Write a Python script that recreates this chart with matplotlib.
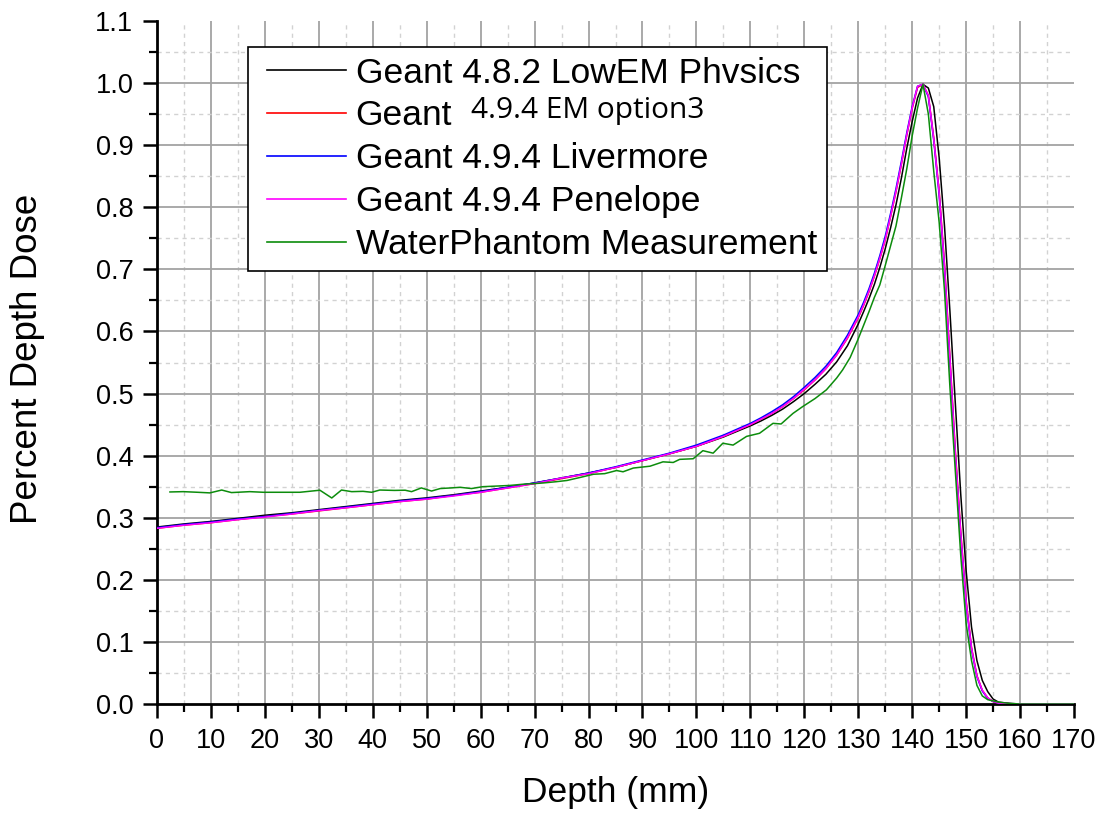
import matplotlib
matplotlib.use('Agg')
import matplotlib.pyplot as plt
from matplotlib.ticker import MultipleLocator, FormatStrFormatter
from matplotlib.lines import Line2D
from matplotlib.legend_handler import HandlerLine2D

plt.rcParams['font.family'] = ['Liberation Sans', 'DejaVu Sans']

# ---------------- data ----------------
sim_depth = [0, 5, 10, 15, 20, 25, 30, 35, 40, 45, 50, 55, 60, 65, 70, 75, 80, 85, 90, 95, 100, 105, 110,
             112, 114, 116, 118, 120, 122, 124, 126, 128, 130,
             131, 132, 133, 134, 135, 136, 137, 138, 139, 140, 141, 142, 143, 144, 145, 146, 147, 148,
             149, 150, 151, 152, 153, 154, 155, 156,
             158, 160, 165, 170]

lowem = [0.285, 0.290, 0.294, 0.299, 0.304, 0.308, 0.313, 0.318, 0.323, 0.328, 0.332, 0.337, 0.343, 0.349,
         0.356, 0.364, 0.372, 0.381, 0.392, 0.403, 0.415, 0.430, 0.448,
         0.456, 0.465, 0.475, 0.487, 0.500, 0.515, 0.531, 0.551, 0.577, 0.612,
         0.632, 0.653, 0.676, 0.703, 0.733, 0.767, 0.804, 0.847, 0.895, 0.938, 0.976, 0.998, 0.992, 0.962,
         0.880, 0.769, 0.632, 0.484, 0.338, 0.215, 0.124, 0.070, 0.038, 0.020, 0.008, 0.003,
         0.001, 0.0, 0.0, 0.0]

option3 = [0.283, 0.288, 0.292, 0.297, 0.302, 0.306, 0.311, 0.316, 0.321, 0.326, 0.330, 0.336, 0.341, 0.348,
           0.355, 0.363, 0.371, 0.381, 0.392, 0.403, 0.415, 0.431, 0.450,
           0.459, 0.468, 0.479, 0.492, 0.506, 0.522, 0.540, 0.562, 0.589, 0.622,
           0.642, 0.664, 0.689, 0.717, 0.747, 0.785, 0.825, 0.869, 0.916, 0.959, 0.993, 0.998, 0.980, 0.912,
           0.826, 0.708, 0.558, 0.408, 0.278, 0.167, 0.091, 0.046, 0.022, 0.010, 0.004, 0.0015,
           0.0005, 0.0, 0.0, 0.0]

livermore = [0.284, 0.289, 0.293, 0.298, 0.302, 0.307, 0.312, 0.317, 0.322, 0.327, 0.331, 0.336, 0.342, 0.349,
             0.356, 0.364, 0.372, 0.382, 0.393, 0.404, 0.417, 0.433, 0.452,
             0.461, 0.471, 0.482, 0.495, 0.510, 0.526, 0.544, 0.566, 0.594, 0.627,
             0.647, 0.669, 0.694, 0.722, 0.753, 0.790, 0.830, 0.874, 0.920, 0.962, 0.995, 0.998, 0.978, 0.908,
             0.820, 0.700, 0.550, 0.400, 0.270, 0.162, 0.088, 0.044, 0.021, 0.009, 0.004, 0.0015,
             0.0005, 0.0, 0.0, 0.0]

penelope = [0.283, 0.288, 0.292, 0.297, 0.301, 0.306, 0.3115, 0.316, 0.321, 0.326, 0.330, 0.335, 0.341, 0.348,
            0.355, 0.364, 0.371, 0.381, 0.392, 0.403, 0.415, 0.431, 0.450,
            0.459, 0.468, 0.479, 0.492, 0.507, 0.522, 0.540, 0.562, 0.590, 0.623,
            0.643, 0.665, 0.690, 0.718, 0.748, 0.786, 0.826, 0.870, 0.917, 0.960, 0.995, 0.998, 0.980, 0.910,
            0.823, 0.705, 0.555, 0.405, 0.275, 0.165, 0.090, 0.045, 0.022, 0.010, 0.004, 0.0015,
            0.0005, 0.0, 0.0, 0.0]

meas_depth = [2.4, 4.9, 7.5, 9.8, 12.0, 13.8, 17.2, 19.7, 22.0, 24.5, 26.5, 30.2, 32.4, 34.2, 36.1,
              38.2, 39.8, 41.3, 44.0, 46.0, 47.2, 49.0, 50.9, 52.5, 54.5, 56.2, 58.3, 60.4, 63.0, 65.4,
              67.9, 70.0, 71.6, 74.0, 76.0, 78.5, 80.9, 83.0, 85.2, 86.4, 88.3, 91.4, 93.8, 95.7, 96.9,
              99.4, 101.2, 103.1, 104.9, 106.8, 109.3, 111.7, 114.2, 115.7, 117.9, 119.7, 122.0, 124.1,
              126.0, 127.1, 128.5, 129.9,
              131, 132, 133, 134, 135, 136, 137, 138, 139, 140, 141, 142, 143, 144, 145, 146, 147, 148,
              149, 150, 151, 152, 153, 154, 156, 158, 160, 165, 170]

measurement = [0.3415, 0.342, 0.341, 0.340, 0.3446, 0.3405, 0.342, 0.341, 0.341, 0.341, 0.341, 0.3443,
               0.3318, 0.3446, 0.342, 0.3425, 0.341, 0.3446, 0.344, 0.3443, 0.342, 0.348, 0.343, 0.347,
               0.348, 0.349, 0.347, 0.350, 0.351, 0.352, 0.354, 0.355, 0.356, 0.358, 0.360, 0.365, 0.370,
               0.371, 0.376, 0.374, 0.380, 0.383, 0.390, 0.389, 0.394, 0.395, 0.408, 0.404, 0.420, 0.417,
               0.431, 0.436, 0.452, 0.451, 0.468, 0.479, 0.492, 0.506, 0.525, 0.538, 0.558, 0.586,
               0.610, 0.632, 0.655, 0.675, 0.706, 0.738, 0.770, 0.815, 0.862, 0.915, 0.960, 0.998, 0.950,
               0.858, 0.776, 0.665, 0.510, 0.375, 0.240, 0.130, 0.070, 0.030, 0.013, 0.007, 0.003, 0.001,
               0.0, 0.0, 0.0]

labels = ["Geant 4.8.2 LowEM Phvsics", "Geant", "Geant 4.9.4 Livermore",
          "Geant 4.9.4 Penelope", "WaterPhantom Measurement"]
label_suffix = "4.9.4 EM option3"
colors = ["#000000", "#ff0000", "#0000ff", "#ff00ff", "#0c8c0c"]

x_ticks = list(range(0, 171, 10))
y_ticks = [0.0, 0.1, 0.2, 0.3, 0.4, 0.5, 0.6, 0.7, 0.8, 0.9, 1.0, 1.1]

# ---------------- figure ----------------
W, H = 1101, 815
fig = plt.figure(figsize=(W / 100, H / 100), dpi=100)
ax = fig.add_axes([157 / W, 1 - 704 / H, (1074 - 157) / W, (704 - 21) / H])

ax.set_xlim(0, 170)
ax.set_ylim(0, 1.1)

# grid (major solid, minor dashed), excluding the outer edges
for xv in x_ticks[1:-1]:
    ax.axvline(xv, color="#a3a3a3", lw=1.3, zorder=0)
for xv in x_ticks[:-1]:
    ax.axvline(xv + 5, color="#d2d2d2", lw=1.0, ls=(0, (3, 3)), zorder=0)
for yv in y_ticks[1:-1]:
    ax.axhline(yv, color="#a3a3a3", lw=1.3, zorder=0)
for yv in y_ticks[:-1]:
    ax.axhline(yv + 0.05, color="#d2d2d2", lw=1.0, ls=(0, (3, 3)), zorder=0)

series = [lowem, option3, livermore, penelope]
handles = []
for ys, c, lab in zip(series, colors[:4], labels[:4]):
    h, = ax.plot(sim_depth, ys, color=c, lw=1.1, label=lab, zorder=3)
    handles.append(h)
h, = ax.plot(meas_depth, measurement, color=colors[4], lw=1.1, label=labels[4], zorder=3)
handles.append(h)

# axes styling
for s in ["top", "right"]:
    ax.spines[s].set_visible(False)
for s in ["left", "bottom"]:
    ax.spines[s].set_linewidth(2.0)

ax.set_xticks(x_ticks)
ax.set_yticks(y_ticks)
ax.xaxis.set_minor_locator(MultipleLocator(5))
ax.yaxis.set_minor_locator(MultipleLocator(0.05))
ax.yaxis.set_major_formatter(FormatStrFormatter('%.1f'))
ax.tick_params(which='major', direction='out', length=10, width=1.8, labelsize=19.5, pad=7)
ax.tick_params(which='minor', direction='out', length=5.5, width=1.6)

ax.set_xlabel("Depth (mm)", fontsize=25.5)
ax.set_ylabel("Percent Depth Dose", fontsize=26.5)
ax.xaxis.set_label_coords(0.5, -0.105)
ax.yaxis.set_label_coords(-0.122, 0.505)

LFS = 25.5
leg = ax.legend(handles=handles, loc='upper left',
                bbox_to_anchor=((248 - 157) / 917, (704 - 47) / 683),
                borderaxespad=0, fontsize=LFS, frameon=True, fancybox=False,
                edgecolor='black', framealpha=1, handlelength=2.49,
                handletextpad=0.28, labelspacing=0.28, borderpad=0.27,
                handler_map={Line2D: HandlerLine2D(xpad=0.28)})
leg.get_frame().set_linewidth(1.2)
leg.set_zorder(5)
for ln in leg.get_lines():
    ln.set_linewidth(1.2)

# smaller suffix text on the second legend label
fig.canvas.draw()
bb = leg.get_texts()[1].get_window_extent()
inv = fig.transFigure.inverted()
fs_px = LFS * 100 / 72
base_px = bb.y0 + 0.21 * fs_px
xs, ys_ = inv.transform((bb.x1 + 19, base_px + 7))
fig.text(xs, ys_, label_suffix, fontsize=21.5,
         family=['Open Sans', 'DejaVu Sans'], va='baseline', ha='left', zorder=6)

fig.savefig("out.png", dpi=100)
